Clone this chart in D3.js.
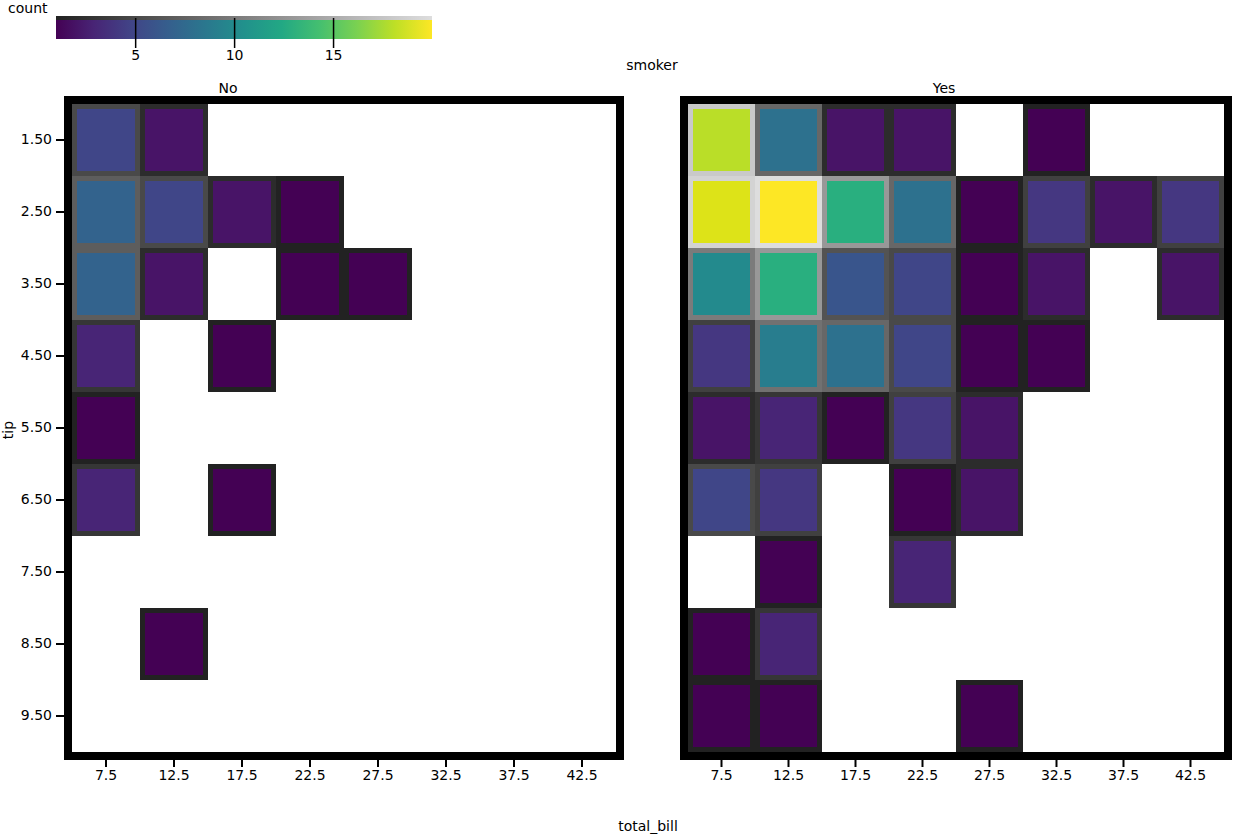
<!DOCTYPE html>
<html lang="en">
  <head>
    <meta charset="UTF-8" />
    <title>Tip vs total bill, by smoker</title>
    <script src="https://d3js.org/d3.v7.min.js"></script>
    <style>
      body {
        margin: 0;
        background-color: #fff;
        font-family: "DejaVu Sans", sans-serif;
      }
      svg text {
        font-family: "DejaVu Sans", sans-serif;
        font-size: 14px;
        fill: #000;
      }
    </style>
  </head>
  <body>
    <div id="chart"></div>
    <script>
      // data: binned counts, rows = tip bins (top to bottom), cols = total_bill bins
      const facets = ["No", "Yes"];
      const xLabels = ["7.5", "12.5", "17.5", "22.5", "27.5", "32.5", "37.5", "42.5"];
      const yLabels = ["1.50", "2.50", "3.50", "4.50", "5.50", "6.50", "7.50", "8.50", "9.50"];
      const countsNo = [
        [5, 2, 0, 0, 0, 0, 0, 0],
        [7, 5, 2, 1, 0, 0, 0, 0],
        [7, 2, 0, 1, 1, 0, 0, 0],
        [3, 0, 1, 0, 0, 0, 0, 0],
        [1, 0, 0, 0, 0, 0, 0, 0],
        [3, 0, 1, 0, 0, 0, 0, 0],
        [0, 0, 0, 0, 0, 0, 0, 0],
        [0, 1, 0, 0, 0, 0, 0, 0],
        [0, 0, 0, 0, 0, 0, 0, 0],
      ];
      const countsYes = [
        [18, 8, 2, 2, 0, 1, 0, 0],
        [19, 20, 13, 8, 1, 4, 2, 4],
        [10, 13, 6, 5, 1, 2, 0, 2],
        [4, 9, 8, 5, 1, 1, 0, 0],
        [2, 3, 1, 4, 2, 0, 0, 0],
        [5, 4, 0, 1, 2, 0, 0, 0],
        [0, 1, 0, 3, 0, 0, 0, 0],
        [1, 3, 0, 0, 0, 0, 0, 0],
        [1, 1, 0, 0, 1, 0, 0, 0],
      ];
      const colorTicks = [5, 10, 15];
      const countRange = [1, 20];

      const W = 1233,
        H = 836;

      const svg = d3
        .select("#chart")
        .append("svg")
        .attr("width", W)
        .attr("height", H);

      const color = d3.scaleSequential(d3.interpolateViridis).domain(countRange);
      // cell outline gets lighter with the count
      const edge = d3.scaleLinear().domain(countRange).range(["#222", "#ddd"]);

      // panel layout (outer frame edges)
      const layout = [
        { left: 64, right: 624, titleX: 228 },
        { left: 680, right: 1232, titleX: 944 },
      ];
      const plotTop = 96,
        plotBottom = 760,
        frameW = 8;

      const y = d3
        .scaleBand()
        .domain(yLabels)
        .range([plotTop + frameW, plotBottom - frameW]);

      const countsByFacet = { No: countsNo, Yes: countsYes };

      facets.forEach((f, k) => {
        const L = layout[k];
        const x = d3
          .scaleBand()
          .domain(xLabels)
          .range([L.left + frameW, L.right - frameW]);

        const cells = [];
        countsByFacet[f].forEach((row, i) =>
          row.forEach((v, j) => {
            if (v > 0) cells.push({ x: xLabels[j], y: yLabels[i], v: v });
          })
        );

        const g = svg.append("g");

        g.selectAll("rect.cell")
          .data(cells)
          .enter()
          .append("rect")
          .attr("class", "cell")
          .attr("x", (d) => x(d.x) + 2.5)
          .attr("y", (d) => y(d.y) + 2.5)
          .attr("width", x.bandwidth() - 5)
          .attr("height", y.bandwidth() - 5)
          .attr("fill", (d) => color(d.v))
          .attr("stroke", (d) => edge(d.v))
          .attr("stroke-width", 5);

        // frame
        g.append("rect")
          .attr("x", L.left + frameW / 2)
          .attr("y", plotTop + frameW / 2)
          .attr("width", L.right - L.left - frameW)
          .attr("height", plotBottom - plotTop - frameW)
          .attr("fill", "none")
          .attr("stroke", "#000")
          .attr("stroke-width", frameW);

        // x axis
        const xa = svg
          .append("g")
          .attr("transform", `translate(0, ${plotBottom})`)
          .call(d3.axisBottom(x).tickSize(7).tickPadding(3));
        xa.select(".domain").remove();
        xa.selectAll("line").attr("stroke-width", 2);
        xa.attr("font-size", null).attr("font-family", null);

        // panel title
        svg
          .append("text")
          .attr("x", L.titleX)
          .attr("y", 93)
          .attr("text-anchor", "middle")
          .text(f);
      });

      // y axis on first panel only
      const ya = svg
        .append("g")
        .attr("transform", `translate(${layout[0].left}, 0)`)
        .call(d3.axisLeft(y).tickSize(8).tickPadding(4));
      ya.select(".domain").remove();
      ya.selectAll("line").attr("stroke-width", 2);
      ya.attr("font-size", null).attr("font-family", null);

      // axis titles
      svg
        .append("text")
        .attr("x", 648)
        .attr("y", 831)
        .attr("text-anchor", "middle")
        .text("total_bill");

      svg
        .append("text")
        .attr("transform", "translate(13, 430) rotate(-90)")
        .attr("text-anchor", "middle")
        .text("tip");

      // facet header
      svg
        .append("text")
        .attr("x", 652)
        .attr("y", 70)
        .attr("text-anchor", "middle")
        .text("smoker");

      // colorbar
      const cbX = d3.scaleLinear().domain(countRange).range([56, 432]);
      const defs = svg.append("defs");
      const grad = defs.append("linearGradient").attr("id", "viridis-grad");
      d3.range(0, 1.001, 0.1).forEach((t) =>
        grad
          .append("stop")
          .attr("offset", t)
          .attr("stop-color", d3.interpolateViridis(t))
      );
      const gray = defs.append("linearGradient").attr("id", "edge-grad");
      gray.append("stop").attr("offset", 0).attr("stop-color", edge.range()[0]);
      gray.append("stop").attr("offset", 1).attr("stop-color", edge.range()[1]);

      svg
        .append("rect")
        .attr("x", cbX.range()[0])
        .attr("y", 16)
        .attr("width", cbX.range()[1] - cbX.range()[0])
        .attr("height", 4)
        .attr("fill", "url(#edge-grad)");
      svg
        .append("rect")
        .attr("x", cbX.range()[0])
        .attr("y", 20)
        .attr("width", cbX.range()[1] - cbX.range()[0])
        .attr("height", 19)
        .attr("fill", "url(#viridis-grad)");

      const ca = svg
        .append("g")
        .attr("transform", "translate(0, 18)")
        .call(d3.axisBottom(cbX).tickValues(colorTicks).tickSize(30).tickPadding(2));
      ca.select(".domain").remove();
      ca.selectAll("line").attr("stroke-width", 1.5);
      ca.attr("font-size", null).attr("font-family", null);

      svg.append("text").attr("x", 8).attr("y", 13).text("count");
    </script>
  </body>
</html>
